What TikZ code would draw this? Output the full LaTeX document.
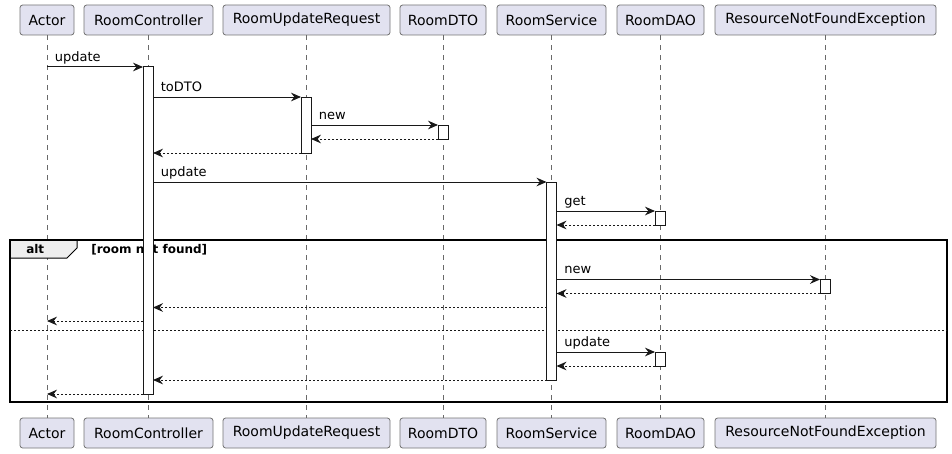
\documentclass[tikz,border=0pt]{standalone}
\usepackage{fontspec}
\setmainfont{DejaVu Sans}
\usepackage{tikz}
\usetikzlibrary{arrows.meta, positioning, calc}

\definecolor{partfill}{HTML}{E2E2F0}
\definecolor{linecol}{HTML}{181818}
\definecolor{tabfill}{HTML}{EEEEEE}

\tikzset{
	part/.style={draw=linecol!60, fill=partfill, rounded corners=2pt, line width=0.6pt, minimum height=22.5pt, inner sep=0pt, font=\fontsize{10.5pt}{12pt}\selectfont},
	life/.style={draw=linecol!65, line width=0.6pt, dash pattern=on 3.75pt off 3.75pt},
	act/.style={draw=linecol, fill=white, line width=0.75pt, minimum width=7.5pt, inner sep=0pt, outer sep=0pt, anchor=north},
	msg/.style={draw=linecol, line width=0.75pt, -{Stealth[length=7.5pt, width=6.5pt, inset=2.5pt]}},
	ret/.style={msg, dash pattern=on 1.5pt off 1.5pt},
	lbl/.style={pos=0, anchor=base west, xshift=5.5pt, yshift=4.5pt, inner sep=0pt, font=\fontsize{9.75pt}{11pt}\selectfont},
	frame/.style={draw=black, line width=1.1pt},
	guard/.style={inner sep=0pt, font=\bfseries\fontsize{9pt}{10pt}\selectfont}
}

\begin{document}
\begin{tikzpicture}[x=0.75pt, y=-0.75pt]
			\useasboundingbox (0,0) rectangle (952,453);
			
			% Teilnehmer und Lebenslinien
			\foreach \n/\x/\w/\t in {actor/47/54/Actor, ctrl/148.5/129/RoomController, req/306.5/167/RoomUpdateRequest, dto/443/86/RoomDTO, svc/551.5/109/RoomService, dao/660.5/87/RoomDAO, exc/825.5/221/ResourceNotFoundException} {
				\node[part, minimum width=\w*0.75pt] (\n) at (\x,20) {\t};
				\node[part, minimum width=\w*0.75pt] (\n-b) at (\x,433) {\t};
				\draw[life] (\n) -- (\n-b);
			}
			
			% alt-Rahmen
			\coordinate (altNW) at (10,240);
			\coordinate (altSE) at (947,402);
			\coordinate (sep) at (0,330);
			\draw[line width=0.75pt, fill=tabfill] (altNW) -- (77,240) -- (77,248) -- (67,258) -- (10,258) -- cycle;
			\draw[frame] (altNW) rectangle (altSE);
			\node[guard, anchor=west] (altlbl) at (26,249.5) {alt};
			\node[guard, anchor=west] (guardlbl) at (91,249.5) {[room not found]};
			\draw[draw=linecol, line width=0.6pt, dash pattern=on 1.5pt off 1.5pt] (altNW |- sep) -- (altSE |- sep);
			
			% Aktivierungen
			\node[act, minimum height=327*0.75pt] (ctrlA) at (148,67) {};
			\node[act, minimum height=56*0.75pt] (reqA) at (306,97) {};
			\node[act, minimum height=14*0.75pt] (dtoA) at (443,125) {};
			\node[act, minimum height=198*0.75pt] (svcA) at (551.5,182) {};
			\node[act, minimum height=14*0.75pt] (daoA) at (660,211) {};
			\node[act, minimum height=14*0.75pt] (excA) at (825,279.5) {};
			\node[act, minimum height=14*0.75pt] (daoB) at (660,352) {};
			
			% Nachrichten
			\draw[msg] (actor |- ctrlA.north) -- node[lbl] {update} (ctrlA.north west);
			\draw[msg] (ctrlA.east |- reqA.north) -- node[lbl] {toDTO} (reqA.north west);
			\draw[msg] (reqA.east |- dtoA.north) -- node[lbl] {new} (dtoA.north west);
			\draw[ret] (dtoA.south west) -- (reqA.east |- dtoA.south);
			\draw[ret] (reqA.south west) -- (ctrlA.east |- reqA.south);
			\draw[msg] (ctrlA.east |- svcA.north) -- node[lbl] {update} (svcA.north west);
			\draw[msg] (svcA.east |- daoA.north) -- node[lbl] {get} (daoA.north west);
			\draw[ret] (daoA.south west) -- (svcA.east |- daoA.south);
			
			% Fall: room not found
			\coordinate (r1) at (0,307.5);
			\coordinate (r2) at (0,321);
			\draw[msg] (svcA.east |- excA.north) -- node[lbl] {new} (excA.north west);
			\draw[ret] (excA.south west) -- (svcA.east |- excA.south);
			\draw[ret] (svcA.west |- r1) -- (ctrlA.east |- r1);
			\draw[ret] (ctrlA.west |- r2) -- (actor |- r2);
			
			% sonst
			\draw[msg] (svcA.east |- daoB.north) -- node[lbl] {update} (daoB.north west);
			\draw[ret] (daoB.south west) -- (svcA.east |- daoB.south);
			\draw[ret] (svcA.south west) -- (ctrlA.east |- svcA.south);
			\draw[ret] (ctrlA.south west) -- (actor |- ctrlA.south);
\end{tikzpicture}
\end{document}
